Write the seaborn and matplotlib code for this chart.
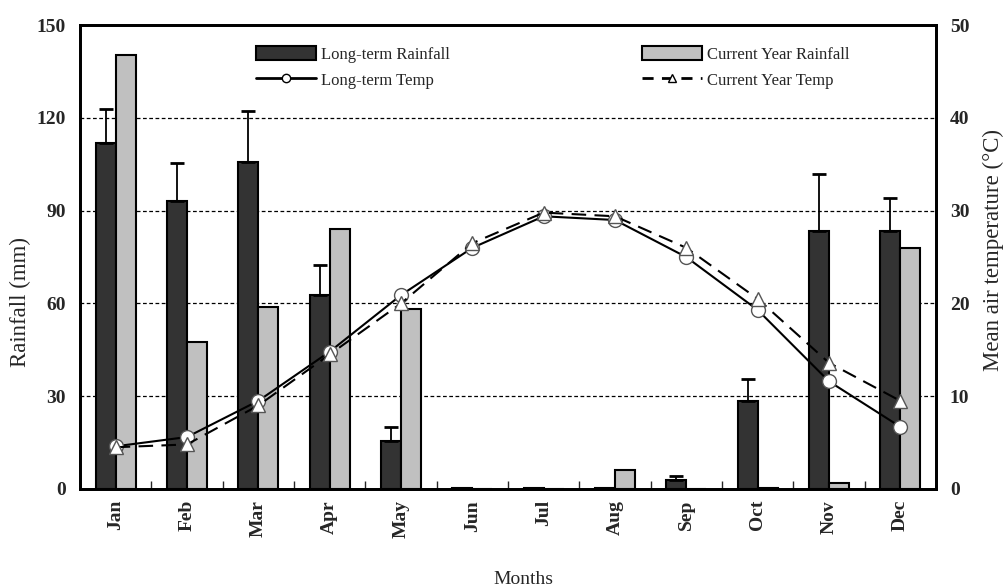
import matplotlib
import matplotlib.pyplot as plt
import numpy as np
import pandas as pd
import seaborn as sns
from matplotlib.lines import Line2D
from matplotlib.patches import Patch

matplotlib.use("Agg")

MONTHS = ["Jan", "Feb", "Mar", "Apr", "May", "Jun", "Jul", "Aug", "Sep", "Oct", "Nov", "Dec"]
LT_RAIN = [111.8, 93.1, 105.8, 62.9, 15.6, 0.3, 0.4, 0.3, 2.8, 28.6, 83.5, 83.5]
LT_RAIN_SD = [11.0, 12.4, 16.4, 9.5, 4.3, 0.0, 0.0, 0.0, 1.5, 7.0, 18.5, 10.5]
CY_RAIN = [140.4, 47.6, 58.7, 84.0, 58.2, 0.0, 0.0, 6.0, 0.0, 0.3, 2.0, 78.0]
LT_TEMP = [4.6, 5.6, 9.5, 14.8, 20.9, 26.0, 29.4, 29.0, 25.0, 19.3, 11.6, 6.7]
CY_TEMP = [4.5, 4.8, 9.0, 14.5, 20.0, 26.5, 29.8, 29.4, 26.0, 20.5, 13.6, 9.5]

DARK = "#333333"
LIGHT = "#c0c0c0"

sns.set_theme(style="white")
plt.rcParams["font.family"] = ["Liberation Serif", "DejaVu Serif"]

rain_df = pd.DataFrame({
    "month": MONTHS * 2,
    "rain": LT_RAIN + CY_RAIN,
    "series": ["Long-term Rainfall"] * 12 + ["Current Year Rainfall"] * 12,
})

fig = plt.figure(figsize=(10.07, 5.87), dpi=100)
ax = fig.add_axes([0.0794, 0.167, 0.8501, 0.790])

sns.barplot(
    data=rain_df, x="month", y="rain", hue="series",
    hue_order=["Long-term Rainfall", "Current Year Rainfall"],
    palette=[DARK, LIGHT], width=0.56, errorbar=None,
    edgecolor="black", linewidth=1.5, legend=False, ax=ax,
)
x = np.arange(len(MONTHS))
ax.errorbar(x - 0.14, LT_RAIN, yerr=[np.zeros(12), LT_RAIN_SD], fmt="none",
            ecolor="black", elinewidth=1.3, capsize=5, capthick=2, zorder=1)

ax.set_xlim(-0.5, 11.5)
ax.set_ylim(0, 150)
ax.set_yticks([0, 30, 60, 90, 120, 150])
ax.yaxis.grid(True, color="black", linestyle=(0, (3, 2)), linewidth=0.9)
ax.set_axisbelow(True)
ax.set_xticks(x)
ax.set_xticklabels(MONTHS, rotation=90, fontsize=14, fontweight="bold")
ax.set_xticks(x[:-1] + 0.5, minor=True)
ax.tick_params(axis="x", which="major", length=0, pad=8)
ax.tick_params(axis="x", which="minor", direction="in", length=6, width=1, bottom=True)
ax.tick_params(axis="y", direction="in", length=0, labelsize=14, pad=10)
for lab in ax.get_yticklabels():
    lab.set_fontweight("bold")
ax.set_xlabel("Months", fontsize=14, va="center")
ax.xaxis.set_label_coords(0.5175, -0.196)
ax.set_ylabel("Rainfall (mm)", fontsize=16.5, va="center")
ax.yaxis.set_label_coords(-0.070, 0.403)
for sp in ax.spines.values():
    sp.set_color("black")
    sp.set_linewidth(2)

ax2 = ax.twinx()
sns.lineplot(x=x, y=LT_TEMP, ax=ax2, color="black", linewidth=1.5,
             marker="o", markersize=10, markerfacecolor="white",
             markeredgecolor="#555555", markeredgewidth=1.0)
sns.lineplot(x=x, y=CY_TEMP, ax=ax2, color="black", linewidth=1.5,
             linestyle=(0, (7, 4)), marker="^", markersize=10.5,
             markerfacecolor="white", markeredgecolor="#555555", markeredgewidth=1.0)
ax2.set_ylim(0, 50)
ax2.set_yticks([0, 10, 20, 30, 40, 50])
ax2.tick_params(axis="y", direction="in", length=0, labelsize=14, pad=10)
for lab in ax2.get_yticklabels():
    lab.set_fontweight("bold")
ax2.set_ylabel("Mean air temperature (\u00b0C)", fontsize=16.5, va="center")
ax2.yaxis.set_label_coords(1.0666, 0.515)
for sp in ax2.spines.values():
    sp.set_color("black")
    sp.set_linewidth(2)

handles = [
    Patch(facecolor=DARK, edgecolor="black", linewidth=1.5),
    Line2D([0], [0], color="black", linewidth=2, marker="o", markersize=6,
           markerfacecolor="white", markeredgecolor="black"),
    Patch(facecolor=LIGHT, edgecolor="black", linewidth=1.5),
    Line2D([0], [0], color="black", linewidth=2, linestyle=(0, (4, 3)), marker="^",
           markersize=6, markerfacecolor="white", markeredgecolor="black"),
]
labels = ["Long-term Rainfall", "Long-term Temp", "Current Year Rainfall", "Current Year Temp"]
fig.legend(handles, labels, loc="upper left", bbox_to_anchor=(248 / 1007, 1 - 38 / 587),
           ncol=2, frameon=False, fontsize=12, handlelength=3.6, handleheight=0.9,
           handletextpad=0.3, columnspacing=11.5, labelspacing=0.55, borderpad=0)

fig.savefig("out.png", dpi=100)
